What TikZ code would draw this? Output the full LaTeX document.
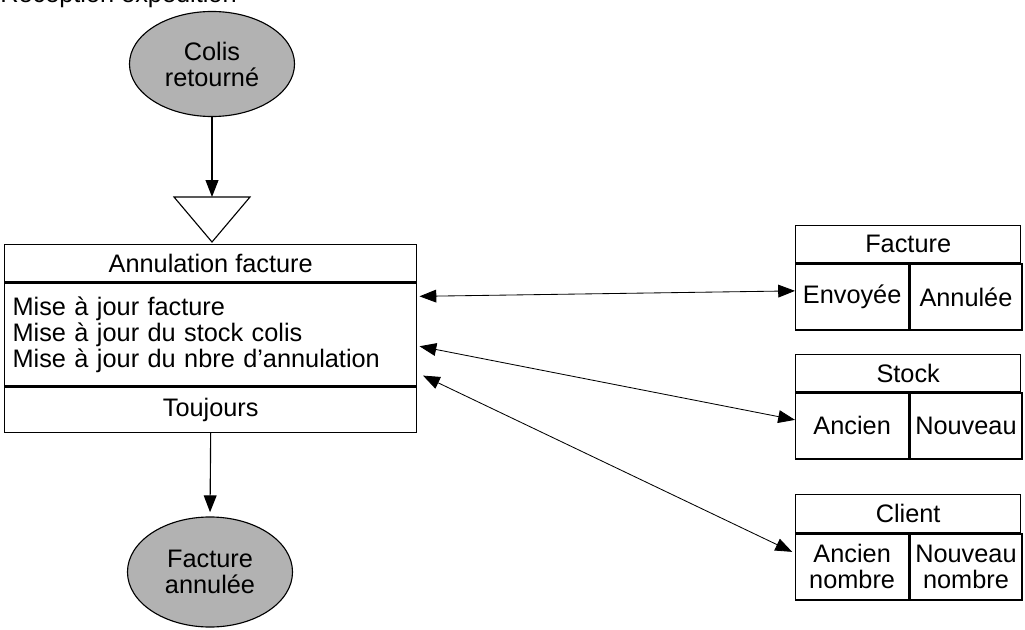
\documentclass[tikz,border=0pt]{standalone}
\usepackage{fontspec}
\setmainfont{Liberation Sans}
\usetikzlibrary{arrows.meta,positioning,shapes.geometric}

\begin{document}
\begin{tikzpicture}[x=0.025cm,y=-0.025cm,
   font=\fontsize{18}{18.5}\selectfont,
   evt/.style={ellipse,draw,line width=0.8pt,fill=gray!60,align=center,
               inner sep=0pt,minimum width=4.125cm},
   cell/.style={draw,line width=0.9pt,inner sep=0pt,align=center},
   flow/.style={-{Triangle[length=4.2mm,width=3.2mm]},line width=0.8pt},
   link/.style={{Triangle[length=4.2mm,width=3.2mm]}-{Triangle[length=4.2mm,width=3.2mm]},
                line width=0.6pt}]
  \useasboundingbox (0,0) rectangle (1025,630);

  % cut-off heading at the top
  \node[overlay,anchor=base west,inner sep=0pt] (ttl) at (0,3) {Réception expédition};

  % event in, synchronisation, operation, event out
  \node[evt,minimum height=2.625cm] (colis) at (212,64) {Colis\\retourné};
  \coordinate (sync) at (212,197);
  \draw[line width=0.8pt] (174,197) -- (250,197) -- (212,242) -- cycle;

  \node[cell,anchor=north west,minimum width=10.3cm,minimum height=0.925cm] (head) at (4,244)
    {Annulation facture};
  \node[cell,below=0pt of head,text width=9.9cm,inner xsep=0.2cm,
        minimum height=2.575cm,align=left] (body)
    {Mise à jour facture\\Mise à jour du stock colis\\Mise à jour du nbre d'annulation};
  \node[cell,below=0pt of body,minimum width=10.3cm,minimum height=1.125cm] (foot) {Toujours};

  \node[evt,minimum height=2.75cm] (facann) at (210,572) {Facture\\annulée};

  \draw[flow] (colis) -- (sync);
  \draw[flow,shorten >=3pt] (foot.south) -- (facann.north);

  % objects
  \node[cell,anchor=north west,minimum width=5.625cm,minimum height=0.925cm] (fach) at (795,225) {Facture};
  \node[cell,below right=0pt and 0pt of fach.south west,anchor=north west,
        minimum width=2.825cm,minimum height=1.65cm] (facl) {Envoyée};
  \node[cell,right=0pt of facl,minimum width=2.8cm,minimum height=1.65cm] (facr) {Annulée};

  \node[cell,anchor=north west,minimum width=5.625cm,minimum height=0.925cm] (stoh) at (795,354) {Stock};
  \node[cell,below right=0pt and 0pt of stoh.south west,anchor=north west,
        minimum width=2.825cm,minimum height=1.65cm] (stol) {Ancien};
  \node[cell,right=0pt of stol,minimum width=2.8cm,minimum height=1.65cm] (stor) {Nouveau};

  \node[cell,anchor=north west,minimum width=5.625cm,minimum height=0.95cm] (clih) at (795,494) {Client};
  \node[cell,below right=0pt and 0pt of clih.south west,anchor=north west,
        minimum width=2.825cm,minimum height=1.65cm] (clil) {Ancien\\nombre};
  \node[cell,right=0pt of clil,minimum width=2.8cm,minimum height=1.65cm] (clir) {Nouveau\\nombre};

  \draw[link] ([xshift=1.5pt,yshift=-10pt]body.north east) -- ([yshift=4.3pt]facl.west);
  \draw[link] ([xshift=1.5pt,yshift=-45.5pt]body.north east) -- ([yshift=4.3pt]stol.west);
  \draw[link] ([xshift=4pt,yshift=7.8pt]body.south east) -- ([xshift=-2pt,yshift=10.7pt]clil.west);
\end{tikzpicture}
\end{document}
